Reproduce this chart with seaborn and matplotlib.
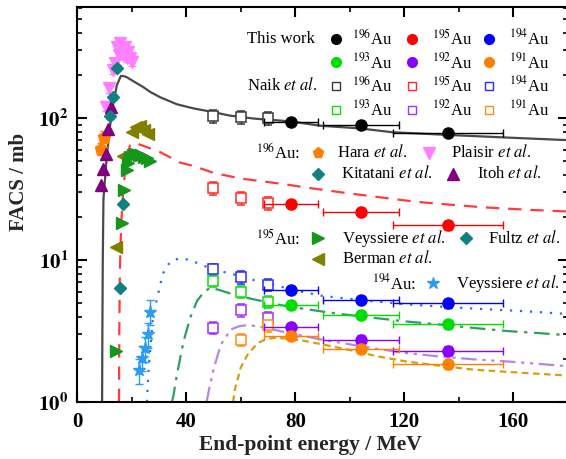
import numpy as np
import matplotlib
matplotlib.use('Agg')
import matplotlib.pyplot as plt
import seaborn as sns
from matplotlib.ticker import MultipleLocator, LogLocator, NullFormatter

# ---- this work (filled circles) ----
tw_E = [78.5, 104, 136]
tw_dE = [10, 14, 20]
tw_196 = [93.7, 89.3, 78.4]
tw_195 = [24.8, 21.8, 17.6]
tw_194 = [6.15, 5.23, 4.94]
tw_193 = [4.82, 4.10, 3.54]
tw_192 = [3.37, 2.75, 2.30]
tw_191 = [2.92, 2.38, 1.85]

# ---- Naik et al. (open squares) ----
naik_E = [50, 60, 70]
naik_196 = [103, 101.6, 100]
naik_195 = [32.1, 27.3, 25.2]
naik_194 = [8.58, 7.57, 6.71]
naik_193 = [7.16, 5.98, 5.10]
naik_192 = [3.34, 4.43, 3.93]
naik_191 = [np.nan, 2.74, 3.48]

# ---- calculated curves ----
c196_E = [9.2, 9.3, 9.45, 9.7, 10.9, 12.1, 13.3, 14.6, 16.1, 17.2, 18.2, 21.0, 24.3, 27.0, 30.5,
          36.6, 42.6, 50, 56, 65, 78.5, 89, 103.6, 115.6, 136, 160, 181]
c196_V = [1.0, 3, 10, 27, 53, 87, 127, 170, 198, 197, 194, 180, 165, 152, 140,
          125, 117, 110, 104, 99, 94.6, 88.3, 84.5, 79.4, 76, 72.5, 69.7]
c195_E = [15.4, 15.5, 15.7, 16.2, 17.0, 18.0, 19.4, 21, 24, 30.5, 37.8, 42.6, 50.2, 60, 74.9,
          87, 99.5, 112, 124.3, 136, 149, 165, 181]
c195_V = [1, 3, 8, 18, 32, 50, 64, 67, 64, 57.5, 48.5, 46, 41, 37.5, 34.4,
          31.8, 29.5, 27.5, 25.7, 24.6, 23.5, 22.6, 21.9]
c194_E = [25.7, 25.9, 26.2, 27.8, 29.2, 31.4, 32.9, 35.0, 38.5, 42, 46.5, 52, 58.8, 65, 71.2,
          80, 89.7, 105, 120.6, 133, 145.3, 165, 181]
c194_V = [1, 1.3, 1.63, 3.88, 5.2, 7.93, 9.06, 10.0, 10.3, 9.9, 9.1, 8.4, 7.8, 7.2, 6.77,
          6.1, 5.6, 5.2, 4.88, 4.7, 4.55, 4.35, 4.15]
c193_E = [34.8, 35.4, 36.6, 39.1, 41.5, 44, 46.5, 48.9, 52.7, 58.8, 67.5, 75, 83.5, 95, 108,
          120, 133, 145, 157.7, 170, 181]
c193_V = [1, 1.12, 1.55, 2.69, 3.93, 5.15, 5.95, 6.4, 6.1, 5.6, 5.15, 4.8, 4.52, 4.2, 3.93,
          3.7, 3.51, 3.33, 3.16, 3.05, 2.94]
c192_E = [47.5, 48.5, 50.2, 52.7, 56.4, 59.5, 62.5, 66, 70, 77.3, 89.7, 108, 120, 133, 145,
          157.7, 170, 181]
c192_V = [1, 1.25, 1.74, 2.53, 3.24, 3.42, 3.48, 3.42, 3.3, 3.07, 2.75, 2.40, 2.22, 2.09, 2.0,
          1.93, 1.85, 1.78]
c191_E = [57.2, 58, 60, 62.5, 66.2, 69.5, 72.4, 77, 83.5, 92, 102, 110, 120.6, 133, 145.3, 160, 181]
c191_V = [1, 1.25, 1.74, 2.15, 2.6, 2.78, 2.83, 2.8, 2.69, 2.5, 2.28, 2.1, 1.93, 1.8, 1.69, 1.62, 1.53]

# ---- other experiments ----
hara_E = [8.8, 9.9]
hara_V = [60.8, 73.5]
plaisir_E = [10.6, 11.9, 13.3, 13.9, 14.8, 15.4, 15.8, 16.4, 16.9, 17.6, 18.2, 18.8, 19.4, 20.1]
plaisir_V = [120, 162, 218, 243, 318, 278, 336, 309, 278, 317, 265, 290, 265, 250]
kitatani_E = [12.1, 13.1, 14.5]
kitatani_V = [104, 141, 224]
itoh_E = [8.7, 9.7, 10.5, 11.4, 12.6]
itoh_V = [34, 44, 56, 84, 120]
vey195_E = [14.3, 16.4, 17.4, 18.2, 18.8, 19.6, 20.6, 21.6, 22.6, 23.6, 24.6, 25.6, 26.8]
vey195_V = [2.3, 18.1, 31.2, 43, 48, 53, 55, 56, 55, 55, 53, 52, 50]
fultz_E = [15.8, 17.0]
fultz_V = [6.4, 24.8]
berman_E = [14.4, 17.0, 20.1, 21.7, 23.1, 24.6, 26.2]
berman_V = [12.4, 54, 80, 86, 88, 82, 77]
vey194_E = [22.9, 23.9, 25.0, 25.9, 26.8]
vey194_V = [1.68, 2.05, 2.39, 2.99, 4.33]

sns.set_theme(style='ticks')
plt.rcParams['font.family'] = 'serif'
plt.rcParams['font.serif'] = ['Liberation Serif', 'DejaVu Serif']
plt.rcParams['mathtext.fontset'] = 'stix'
plt.rcParams['axes.edgecolor'] = 'black'
plt.rcParams['text.color'] = 'black'
plt.rcParams['xtick.color'] = 'black'
plt.rcParams['ytick.color'] = 'black'

fig = plt.figure(figsize=(5.66, 4.59), dpi=100)
ax = fig.add_axes([77 / 566, 57 / 459, 491 / 566, 395 / 459])
ax.set_yscale('log')

tw_cols = ['black', '#ff0000', '#0000ff', '#00dd00', '#8a00ff', '#ff8000']
nk_cols = ['#3a3a3a', '#ff2a2a', '#2a2aff', '#10dd10', '#9933ff', '#ff8c1a']

# curves
sns.lineplot(x=c196_E, y=c196_V, ax=ax, color='#4a4a4a', lw=1.6, sort=False, estimator=None)
sns.lineplot(x=c195_E, y=c195_V, ax=ax, color='#ff3b3b', lw=1.6, linestyle=(0, (6, 4)), sort=False, estimator=None)
sns.lineplot(x=c194_E, y=c194_V, ax=ax, color='#2f6fe0', lw=1.6, linestyle=(0, (1, 3.5)), sort=False, estimator=None)
sns.lineplot(x=c193_E, y=c193_V, ax=ax, color='#2ea05e', lw=1.6, linestyle=(0, (7, 3, 1.5, 3)), sort=False, estimator=None)
sns.lineplot(x=c192_E, y=c192_V, ax=ax, color='#b488e0', lw=1.6, linestyle=(0, (7, 2.5, 1.5, 2.5, 1.5, 2.5)), sort=False, estimator=None)
sns.lineplot(x=c191_E, y=c191_V, ax=ax, color='#d4a012', lw=1.6, linestyle=(0, (3, 2)), sort=False, estimator=None)

# Naik et al.
for vals, col in zip([naik_196, naik_195, naik_194, naik_193, naik_192, naik_191], nk_cols):
    v = np.array(vals)
    ax.errorbar(naik_E, v, yerr=0.1 * v, fmt='s', ms=7, mfc='white', mec=col, mew=1.1,
                ecolor=col, elinewidth=1, capsize=3, zorder=4)

# this work
for vals, col in zip([tw_196, tw_195, tw_194, tw_193, tw_192, tw_191], tw_cols):
    v = np.array(vals)
    ax.errorbar(tw_E, v, xerr=tw_dE, yerr=0.07 * v, fmt='o', ms=8, color=col, mec=col,
                ecolor=col, elinewidth=1, capsize=3, zorder=5)

# literature data
hv = np.array(hara_V)
ax.errorbar(hara_E, hv, yerr=0.1 * hv, fmt='p', ms=9, color='#ff8000', capsize=3, elinewidth=1, zorder=6)
pv = np.array(plaisir_V)
ax.errorbar(plaisir_E, pv, yerr=0.07 * pv, fmt='v', ms=8.5, color='#ff80ff', capsize=3, elinewidth=1, zorder=6)
ax.errorbar(kitatani_E, kitatani_V, yerr=0.05 * np.array(kitatani_V), fmt='D', ms=6.5, color='#108080', capsize=3, elinewidth=1, zorder=7)
ax.plot(itoh_E, itoh_V, '^', ms=8.5, color='#800080', zorder=7)
ax.plot(vey195_E, vey195_V, '>', ms=8.5, color='#16961a', zorder=6)
ax.plot(fultz_E, fultz_V, 'D', ms=6.5, color='#108080', zorder=7)
ax.plot(berman_E, berman_V, '<', ms=8.5, color='#7f7f00', zorder=5)
vv = np.array(vey194_V)
ax.errorbar(vey194_E, vv, yerr=0.2 * vv, fmt='*', ms=9.5, color='#2b9cf0', capsize=3, elinewidth=1, zorder=6)

ax.set_xlim(0, 180)
ax.set_ylim(1, 605)

# axes styling
for s in ax.spines.values():
    s.set_linewidth(1.5)
ax.xaxis.set_major_locator(MultipleLocator(40))
ax.xaxis.set_minor_locator(MultipleLocator(20))
ax.yaxis.set_major_locator(LogLocator(base=10, numticks=10))
ax.yaxis.set_minor_locator(LogLocator(base=10, subs=np.arange(2, 10), numticks=20))
ax.yaxis.set_minor_formatter(NullFormatter())
ax.tick_params(which='both', direction='in', top=True, right=True)
ax.tick_params(which='major', length=7, width=1.5, labelsize=15)
ax.tick_params(which='minor', length=3.5, width=1.2)
ax.tick_params(axis='x', which='major', pad=7)
ax.tick_params(axis='y', which='major', pad=6)
ax.set_yticks([1, 10, 100])
ax.set_yticklabels([r'$\mathbf{10^{0}}$', r'$\mathbf{10^{1}}$', r'$\mathbf{10^{2}}$'])
ax.set_xticks([0, 40, 80, 120, 160])
ax.set_xticklabels(['0', '40', '80', '120', '160'], fontweight='bold')

ax.set_xlabel('End-point energy / MeV', fontsize=15.5, fontweight='bold')
ax.xaxis.set_label_coords((310 - 77) / 491, -0.083)
ax.set_ylabel('FACS / mb', fontsize=15, fontweight='bold')
ax.yaxis.set_label_coords(-0.098, 0.557)


# ---- hand-placed legend ----
def pos(px, py):
    return ((px - 77) / 491, (402 - py) / 395)


def key(px, py, marker, col, filled=True, ms=7):
    x, y = pos(px, py)
    ax.plot([x], [y], marker=marker, ms=ms, color=col, mec=col,
            mfc=col if filled else 'white', mew=1, ls='none',
            transform=ax.transAxes, clip_on=False, zorder=9)


def txt(px, py, s):
    x, y = pos(px, py)
    ax.text(x, y, s, transform=ax.transAxes, fontsize=12, ha='left', va='center', zorder=9)


rows = [38.6, 62.2, 85.9, 109.5]
txt(247, rows[0], 'This work')
txt(247, rows[2], r'Naik $\mathit{et\ al.}$')
iso_names = ['196', '195', '194', '193', '192', '191']
kx = [336, 412, 489]
tx = [352, 432, 509]
for i, name in enumerate(iso_names):
    r, c = divmod(i, 3)
    key(kx[c], rows[r], 'o', tw_cols[i], ms=7)
    txt(tx[c], rows[r], r'$^{%s}$Au' % name)
    key(kx[c], rows[r + 2], 's', nk_cols[i], filled=False, ms=6)
    txt(tx[c], rows[r + 2], r'$^{%s}$Au' % name)

txt(256, 152.8, r'$^{196}$Au:')
key(318, 152.8, 'p', '#ff8000', ms=8)
txt(337, 152.8, r'Hara $\mathit{et\ al.}$')
key(429, 152.8, 'v', '#ff80ff', ms=8)
txt(451, 152.8, r'Plaisir $\mathit{et\ al.}$')
key(318, 173.7, 'D', '#108080', ms=6)
txt(341, 173.7, r'Kitatani $\mathit{et\ al.}$')
key(453, 173.7, '^', '#800080', ms=8)
txt(477, 173.7, r'Itoh $\mathit{et\ al.}$')

txt(256, 238.3, r'$^{195}$Au:')
key(318, 238.3, '>', '#16961a', ms=8)
txt(342, 238.3, r'Veyssiere $\mathit{et\ al.}$')
key(466, 238.3, 'D', '#108080', ms=6)
txt(488, 238.3, r'Fultz $\mathit{et\ al.}$')
key(318, 258.5, '<', '#7f7f00', ms=8)
txt(342, 258.5, r'Berman $\mathit{et\ al.}$')

txt(372, 283.3, r'$^{194}$Au:')
key(433, 283.3, '*', '#2b9cf0', ms=9)
txt(456, 283.3, r'Veyssiere $\mathit{et\ al.}$')

fig.savefig('out.png', dpi=100)
